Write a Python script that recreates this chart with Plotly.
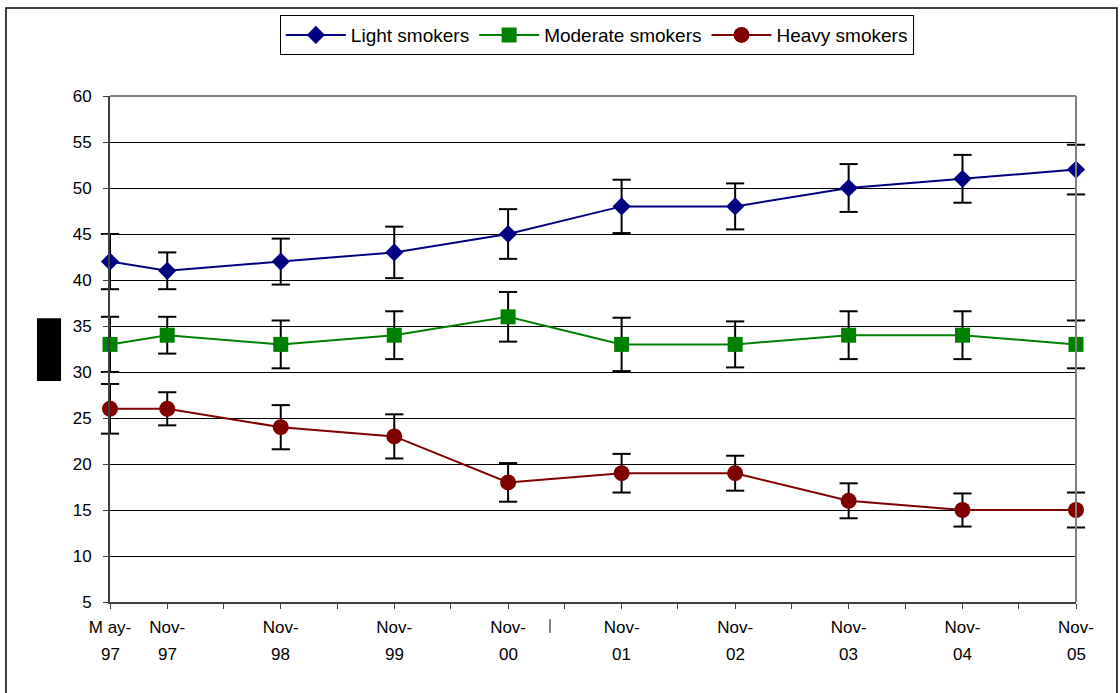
import plotly.graph_objects as go

# ---- data ----
dates = ["1997-05-01", "1997-11-01", "1998-11-01", "1999-11-01", "2000-11-01",
         "2001-11-01", "2002-11-01", "2003-11-01", "2004-11-01", "2005-11-01"]
month_labels = ["M ay-", "Nov-", "Nov-", "Nov-", "Nov-", "Nov-", "Nov-", "Nov-", "Nov-", "Nov-"]
year_labels = ["97", "97", "98", "99", "00", "01", "02", "03", "04", "05"]

light = [42, 41, 42, 43, 45, 48, 48, 50, 51, 52]
light_err = [3.0, 2.0, 2.5, 2.8, 2.7, 2.9, 2.5, 2.6, 2.6, 2.7]
moderate = [33, 34, 33, 34, 36, 33, 33, 34, 34, 33]
moderate_err = [3.0, 2.0, 2.6, 2.6, 2.7, 2.9, 2.5, 2.6, 2.6, 2.6]
heavy = [26, 26, 24, 23, 18, 19, 19, 16, 15, 15]
heavy_err = [2.7, 1.8, 2.4, 2.4, 2.1, 2.1, 1.9, 1.9, 1.8, 1.9]

half_year_ticks = ["1997-05-01", "1997-11-01", "1998-05-01", "1998-11-01", "1999-05-01",
                   "1999-11-01", "2000-05-01", "2000-11-01", "2001-05-01", "2001-11-01",
                   "2002-05-01", "2002-11-01", "2003-05-01", "2003-11-01", "2004-05-01",
                   "2004-11-01", "2005-05-01", "2005-11-01"]

FONT = "Liberation Sans, Arial, sans-serif"
FS = 17

fig = go.Figure()

series = [
    ("Light smokers", light, light_err, "#000080", "diamond", 14),
    ("Moderate smokers", moderate, moderate_err, "#008000", "square", 15),
    ("Heavy smokers", heavy, heavy_err, "#800000", "circle", 16),
]
for name, vals, errs, col, sym, sz in series:
    # error bar stems (caps drawn separately so they are not clipped at the edges)
    fig.add_trace(go.Scatter(
        x=dates, y=vals, name=name, mode="lines+markers",
        line=dict(color=col, width=2),
        marker=dict(symbol=sym, size=sz, color=col),
        error_y=dict(type="data", array=errs, visible=True,
                     color="black", thickness=2, width=0),
        cliponaxis=False,
    ))
for name, vals, errs, col, sym, sz in series:
    caps_y = [v + e for v, e in zip(vals, errs)] + [v - e for v, e in zip(vals, errs)]
    fig.add_trace(go.Scatter(
        x=dates + dates, y=caps_y, mode="markers", showlegend=False,
        hoverinfo="skip",
        marker=dict(symbol="line-ew", size=13, color="black",
                    line=dict(color="black", width=2)),
        cliponaxis=False,
    ))

ticktext = []
for t in half_year_ticks:
    if t in dates:
        ticktext.append(month_labels[dates.index(t)])
    else:
        ticktext.append("")

fig.update_layout(
    width=1120, height=693,
    margin=dict(l=110, r=44, t=96, b=91),
    paper_bgcolor="white", plot_bgcolor="white",
    font=dict(family=FONT, size=FS, color="black"),
    showlegend=True,
    legend=dict(orientation="h", x=0.504, xanchor="center", y=1.160, yanchor="top",
                bordercolor="black", borderwidth=1, bgcolor="white",
                font=dict(size=19), itemwidth=60),
    xaxis=dict(type="date", range=["1997-05-01", "2005-11-01"],
               tickmode="array", tickvals=half_year_ticks, ticktext=ticktext,
               ticks="outside", ticklen=5, tickcolor="#404040",
               showgrid=False, showline=True, linecolor="#404040", linewidth=2,
               mirror=False, zeroline=False, tickfont=dict(size=FS),
               ticklabelstandoff=4),
    yaxis=dict(range=[5, 60], tickmode="linear", tick0=5, dtick=5,
               ticks="outside", ticklen=5, tickcolor="#404040",
               showgrid=True, gridcolor="black", gridwidth=1,
               showline=True, linecolor="#404040", linewidth=2,
               zeroline=False, tickfont=dict(size=FS), ticklabelstandoff=8),
)

# top and right gray plot border
fig.add_shape(type="line", xref="paper", yref="paper", x0=0, x1=1, y0=1, y1=1,
              line=dict(color="#808080", width=2))
fig.add_shape(type="line", xref="paper", yref="paper", x0=1, x1=1, y0=0, y1=1,
              line=dict(color="#808080", width=2))

# year row of the x labels
for d, yl in zip(dates, year_labels):
    fig.add_annotation(x=d, y=-0.1047, xref="x", yref="paper", text=yl,
                       showarrow=False, font=dict(size=FS), yanchor="middle")

# outer chart frame
fig.add_shape(type="rect", xref="paper", yref="paper",
              x0=-0.1077, x1=1.0424, y0=-0.3, y1=1.174,
              line=dict(color="black", width=1.5), layer="below")
# redacted axis title block
fig.add_shape(type="rect", xref="paper", yref="paper",
              x0=-0.0756, x1=-0.0507, y0=0.437, y1=0.561,
              line=dict(width=0), fillcolor="black")
# stray mark under the axis
fig.add_shape(type="line", xref="paper", yref="paper",
              x0=0.4555, x1=0.4555, y0=-0.034, y1=-0.061,
              line=dict(color="black", width=1))

fig.write_html("out.html", config={"displayModeBar": False},
               post_script="document.body.style.margin='0';document.body.style.overflow='hidden';")
